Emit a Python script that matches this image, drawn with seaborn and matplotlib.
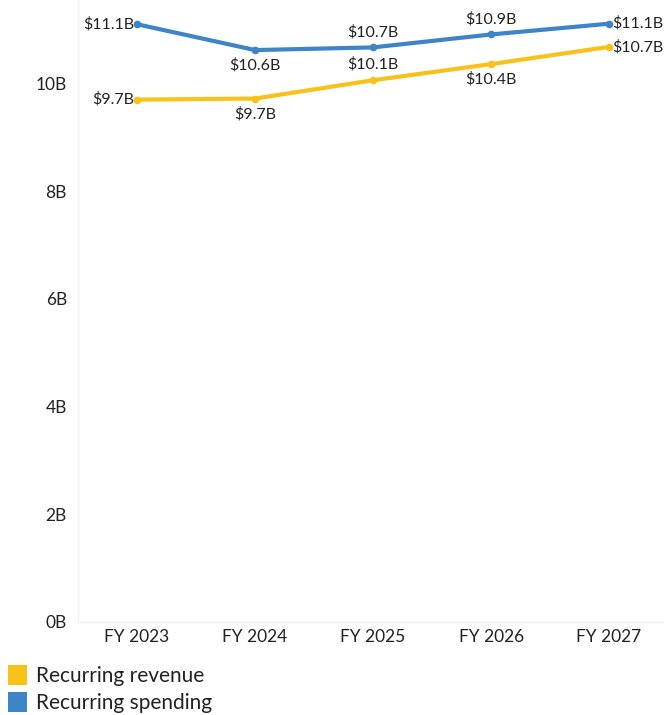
import matplotlib
matplotlib.use("Agg")
import matplotlib.pyplot as plt
import seaborn as sns
import pandas as pd
from matplotlib.patches import Patch

years = ["FY 2023", "FY 2024", "FY 2025", "FY 2026", "FY 2027"]
revenue = [9.70, 9.72, 10.06, 10.36, 10.68]
spending = [11.10, 10.62, 10.67, 10.91, 11.11]
revenue_labels = ["$9.7B", "$9.7B", "$10.1B", "$10.4B", "$10.7B"]
spending_labels = ["$11.1B", "$10.6B", "$10.7B", "$10.9B", "$11.1B"]
yticks = [0, 2, 4, 6, 8, 10]
ytick_labels = ["0B", "2B", "4B", "6B", "8B", "10B"]

sns.set_theme(style="white")
plt.rcParams["font.family"] = ["Lato", "DejaVu Sans"]

c_rev = "#F9C21B"
c_spend = "#3D85C6"

df = pd.DataFrame({
    "year": years * 2,
    "value": revenue + spending,
    "series": ["Recurring revenue"] * 5 + ["Recurring spending"] * 5,
})

fig = plt.figure(figsize=(6.64, 7.15), dpi=100)
ax = fig.add_axes([78 / 664, 1 - 622 / 715, 586 / 664, 622 / 715])

sns.lineplot(data=df, x="year", y="value", hue="series",
             palette={"Recurring revenue": c_rev, "Recurring spending": c_spend},
             marker="o", markersize=5.5, markeredgewidth=0, linewidth=3,
             ax=ax, legend=False, sort=False)

ax.set_xlim(-0.5, 4.465)
ax.set_ylim(0, 11.55)
ax.set_yticks(yticks)
ax.set_yticklabels(ytick_labels)
ax.set_xlabel("")
ax.set_ylabel("")
ax.tick_params(axis="both", labelsize=12.5, colors="#222222", length=5, width=0.8)
ax.tick_params(axis="y", color="#eeeeee", pad=3)
ax.tick_params(axis="x", color="#eeeeee", pad=5)
ax.set_xticks(range(5))
ax.set_xticks([-0.5, 0.5, 1.5, 2.5, 3.5], minor=True)
ax.tick_params(axis="x", which="major", length=0)
ax.tick_params(axis="x", which="minor", length=6, color="#eeeeee", width=0.8)
for s in ["top", "right"]:
    ax.spines[s].set_visible(False)
for s in ["left", "bottom"]:
    ax.spines[s].set_color("#f0f0f0")
    ax.spines[s].set_linewidth(1)

fs = 11.5
# placements: (dx points, dy points, ha, va)
rev_pos = [(-2, 0, "right", "center"), (0, -6, "center", "top"), (0, 6, "center", "bottom"),
           (0, -6, "center", "top"), (2, 0, "left", "center")]
spend_pos = [(-2, 0, "right", "center"), (0, -6, "center", "top"), (0, 6, "center", "bottom"),
             (0, 6, "center", "bottom"), (2, 0, "left", "center")]
for i in range(5):
    dx, dy, ha, va = rev_pos[i]
    ax.annotate(revenue_labels[i], (i, revenue[i]), xytext=(dx, dy), textcoords="offset points",
                ha=ha, va=va, fontsize=fs, color="#222222", annotation_clip=False)
    dx, dy, ha, va = spend_pos[i]
    ax.annotate(spending_labels[i], (i, spending[i]), xytext=(dx, dy), textcoords="offset points",
                ha=ha, va=va, fontsize=fs, color="#222222", annotation_clip=False)

handles = [Patch(facecolor=c_rev, edgecolor="none", label="Recurring revenue"),
           Patch(facecolor=c_spend, edgecolor="none", label="Recurring spending")]
fig.legend(handles=handles, loc="upper left", bbox_to_anchor=(8 / 664, 1 - 665 / 715),
           frameon=False, fontsize=15, handlelength=0.9, handleheight=1.1,
           handletextpad=0.45, labelspacing=0.3, borderaxespad=0, borderpad=0,
           labelcolor="#222222")

fig.savefig("out.png", dpi=100)
